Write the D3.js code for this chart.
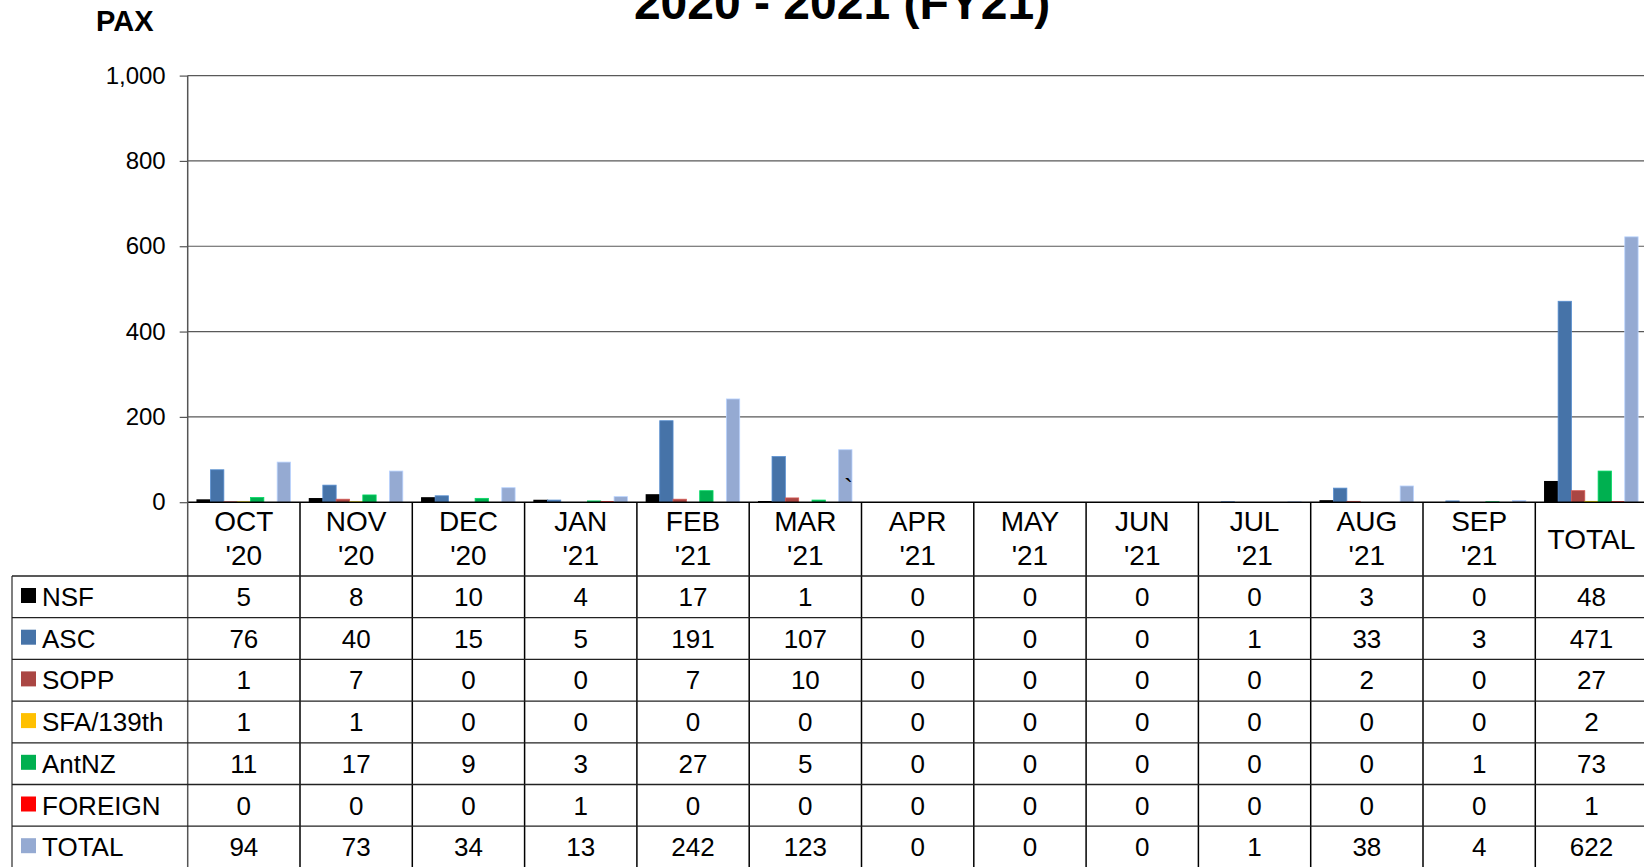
<!DOCTYPE html>
<html>
<head>
<meta charset="utf-8">
<script src="https://cdn.jsdelivr.net/npm/d3@7/dist/d3.min.js"></script>
<style>
  html, body { margin: 0; padding: 0; background: #fff; overflow: hidden; }
  svg { display: block; font-family: "Liberation Sans", Arial, sans-serif; }
</style>
</head>
<body>
<svg class="chart" width="1644" height="867"></svg>
<script>
"use strict";

let months = ["OCT\n'20", "NOV\n'20", "DEC\n'20", "JAN\n'21", "FEB\n'21", "MAR\n'21",
  "APR\n'21", "MAY\n'21", "JUN\n'21", "JUL\n'21", "AUG\n'21", "SEP\n'21", "TOTAL"];

let seriesNames = ["NSF", "ASC", "SOPP", "SFA/139th", "AntNZ", "FOREIGN", "TOTAL"];
let seriesColors = ["#000000", "#4673A8", "#AA4643", "#FFC000", "#00B050", "#FF0000", "#95AAD2"];

let nsf     = [5, 8, 10, 4, 17, 1, 0, 0, 0, 0, 3, 0, 48];
let asc     = [76, 40, 15, 5, 191, 107, 0, 0, 0, 1, 33, 3, 471];
let sopp    = [1, 7, 0, 0, 7, 10, 0, 0, 0, 0, 2, 0, 27];
let sfa     = [1, 1, 0, 0, 0, 0, 0, 0, 0, 0, 0, 0, 2];
let antnz   = [11, 17, 9, 3, 27, 5, 0, 0, 0, 0, 0, 1, 73];
let foreign = [0, 0, 0, 1, 0, 0, 0, 0, 0, 0, 0, 0, 1];
let total   = [94, 73, 34, 13, 242, 123, 0, 0, 0, 1, 38, 4, 622];

let yTicks = [0, 200, 400, 600, 800, 1000];

let values = [nsf, asc, sopp, sfa, antnz, foreign, total];

let svg = d3.select('.chart');

let plotLeft = 187.7;
let catWidth = 112.3;
let tableLeft = 12;
let tableTop = 576;
let rowH = 41.7;

let x = d3.scaleBand()
  .domain(months)
  .range([plotLeft, plotLeft + catWidth * months.length]);

let xInner = d3.scaleBand()
  .domain(seriesNames)
  .range([9.5, catWidth - 9.5]);

let y = d3.scaleLinear()
  .domain([0, 1000])
  .range([502.2, 75.6]);

let row = d3.scaleBand()
  .domain(seriesNames)
  .range([tableTop, tableTop + rowH * seriesNames.length]);

// title + unit label (title runs off the top, as in the original)
svg.append('text')
  .attr('x', 842).attr('y', 19)
  .attr('text-anchor', 'middle')
  .attr('font-size', 48).attr('font-weight', 'bold')
  .text('2020 - 2021 (FY21)');

svg.append('text')
  .attr('x', 96).attr('y', 31)
  .attr('font-size', 29).attr('font-weight', 'bold')
  .text('PAX');

// gridlines
svg.append('g')
  .selectAll('line')
  .data(yTicks.filter(d => d > 0))
  .enter().append('line')
  .attr('x1', plotLeft).attr('x2', 1644)
  .attr('y1', d => y(d)).attr('y2', d => y(d))
  .attr('stroke', '#595959').attr('stroke-width', 1.2);

// y axis
let yAxis = svg.append('g')
  .attr('transform', 'translate(' + plotLeft + ',0)')
  .call(d3.axisLeft(y).tickValues(yTicks).tickSize(8).tickPadding(14).tickFormat(d3.format(',')));
yAxis.select('.domain').remove();
yAxis.selectAll('.tick line').attr('stroke', '#555').attr('stroke-width', 1.2);
yAxis.selectAll('.tick text')
  .attr('font-size', 24)
  .attr('font-family', '"Liberation Sans", Arial, sans-serif')
  .attr('fill', '#000');

// bars
let groups = svg.append('g')
  .selectAll('g')
  .data(months)
  .enter().append('g')
  .attr('transform', d => 'translate(' + x(d) + ',0)');

groups.selectAll('rect')
  .data((m, mi) => seriesNames.map((s, si) => ({ s: s, v: values[si][mi], c: seriesColors[si] })))
  .enter().append('rect')
  .attr('x', d => xInner(d.s))
  .attr('width', xInner.bandwidth())
  .attr('y', d => y(d.v))
  .attr('height', d => y(0) - y(d.v))
  .attr('fill', d => d.c)
  .attr('stroke', d => d.s === 'NSF' ? '#000' : d3.color(d.c).brighter(0.6))
  .attr('stroke-width', d => d.s === 'NSF' ? 1.5 : 0.8);

// stray mark near MAR
svg.append('text')
  .attr('x', x(months[5]) + 95).attr('y', 497)
  .attr('font-size', 26)
  .text('`');

// axis baseline + vertical lines
svg.append('line')
  .attr('x1', plotLeft).attr('x2', 1644)
  .attr('y1', y(0)).attr('y2', y(0))
  .attr('stroke', '#000').attr('stroke-width', 1.5);

svg.append('line')
  .attr('x1', plotLeft).attr('x2', plotLeft)
  .attr('y1', y(1000)).attr('y2', 867)
  .attr('stroke', '#555').attr('stroke-width', 1.5);

svg.append('g')
  .selectAll('line')
  .data(months.slice(1))
  .enter().append('line')
  .attr('x1', d => x(d)).attr('x2', d => x(d))
  .attr('y1', y(0)).attr('y2', 867)
  .attr('stroke', '#000').attr('stroke-width', 1.5);

svg.append('line')
  .attr('x1', tableLeft).attr('x2', tableLeft)
  .attr('y1', tableTop).attr('y2', 867)
  .attr('stroke', '#555').attr('stroke-width', 1.5);

// category labels
let catLabels = svg.append('g')
  .selectAll('text')
  .data(months)
  .enter().append('text')
  .attr('text-anchor', 'middle')
  .attr('font-size', 28)
  .attr('x', d => x(d) + catWidth / 2);

catLabels.each(function (d) {
  let lines = d.split('\n');
  let t = d3.select(this);
  if (lines.length === 1) {
    t.attr('y', 549).text(lines[0]);
  } else {
    lines.forEach((l, i) => {
      t.append('tspan')
        .attr('x', x(d) + catWidth / 2)
        .attr('y', 531 + i * 34)
        .text(l);
    });
  }
});

// table rows
svg.append('g')
  .selectAll('line')
  .data(seriesNames.concat(['end']))
  .enter().append('line')
  .attr('x1', tableLeft).attr('x2', 1644)
  .attr('y1', (d, i) => tableTop + i * rowH).attr('y2', (d, i) => tableTop + i * rowH)
  .attr('stroke', '#222').attr('stroke-width', 1.3);

let legendRows = svg.append('g')
  .selectAll('g')
  .data(seriesNames)
  .enter().append('g')
  .attr('transform', d => 'translate(0,' + row(d) + ')');

legendRows.append('rect')
  .attr('x', 21).attr('y', 12)
  .attr('width', 15).attr('height', 15)
  .attr('fill', (d, i) => seriesColors[i]);

legendRows.append('text')
  .attr('x', 42).attr('y', 30)
  .attr('font-size', 26)
  .text(d => d);

legendRows.selectAll('text.val')
  .data((s, si) => values[si].map((v, mi) => ({ v: v, m: months[mi] })))
  .enter().append('text')
  .attr('class', 'val')
  .attr('text-anchor', 'middle')
  .attr('font-size', 26)
  .attr('x', d => x(d.m) + catWidth / 2)
  .attr('y', 30)
  .text(d => d.v);
</script>
</body>
</html>
